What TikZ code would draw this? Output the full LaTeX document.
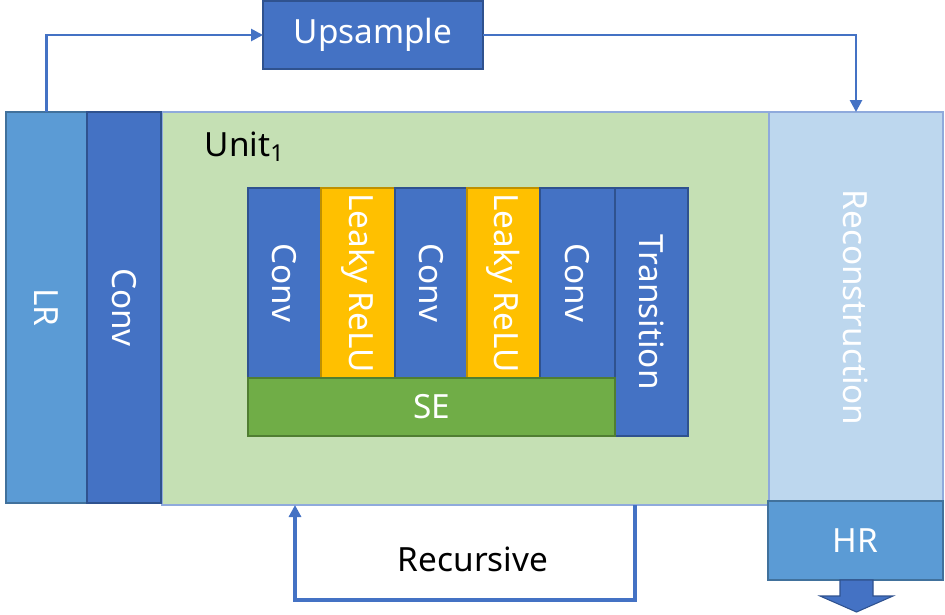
\documentclass[tikz,border=0pt]{standalone}
\usepackage{fontspec}
\setmainfont{Noto Sans}
\usetikzlibrary{arrows.meta,positioning}
\newlength\px
\setlength\px{0.75pt}
\definecolor{convblue}{HTML}{4472C4}
\definecolor{convedge}{HTML}{2F528F}
\definecolor{lrblue}{HTML}{5B9BD5}
\definecolor{lredge}{HTML}{41719C}
\definecolor{unitgreen}{HTML}{C5E0B4}
\definecolor{paleedge}{HTML}{8FAADC}
\definecolor{recblue}{HTML}{BDD7EE}
\definecolor{reluyellow}{HTML}{FFC000}
\definecolor{reluedge}{HTML}{BF9000}
\definecolor{segreen}{HTML}{70AD47}
\definecolor{seedge}{HTML}{507E32}
\tikzset{
  block/.style = {rectangle, line width = 1.5pt, outer sep = 0pt, inner sep = 0pt,
                  text = white, font = \fontsize{25}{29}\selectfont},
  convbox/.style = {block, fill = convblue, draw = convedge},
  lrbox/.style = {block, fill = lrblue, draw = lredge},
  relubox/.style = {block, fill = reluyellow, draw = reluedge},
  flow/.style = {convblue, line width = 2pt, -{Triangle[width=9pt,length=9pt]}},
}
\begin{document}
\begin{tikzpicture}[x = 1\px, y = -1\px]
  \useasboundingbox (0,0) rectangle (945,614);
  % outer stages
  \node [convbox, minimum width = 220\px, minimum height = 68\px]
    (up) at (373,35) {Upsample};
  \node [block, fill = unitgreen, draw = paleedge, line width = 2.2pt,
         minimum width = 607\px, minimum height = 393\px]
    (unit) at (465.5,308.5) {};
  \node [lrbox, minimum width = 81\px, minimum height = 391\px]
    (lr) at (46.5,307.5) {\rotatebox{-90}{LR}};
  \node [convbox, minimum width = 74\px, minimum height = 391\px]
    (conv) at (124,307.5) {\rotatebox{-90}{Conv}};
  \node [block, fill = recblue, draw = paleedge, line width = 2.2pt,
         minimum width = 174\px, minimum height = 391\px]
    (rec) at (856,307.5) {\rotatebox{-90}{Reconstruction}};
  \node [lrbox, minimum width = 175\px, minimum height = 79\px]
    (hr) at (855.5,540.5) {HR};
  \node [anchor = base west, font = \fontsize{25}{29}\selectfont]
    (unitlab) at (200,156) {Unit\textsubscript{1}};
  % unit body
  \node [convbox, minimum width = 73\px, minimum height = 190\px]
    (c1) at (284.5,283) {\rotatebox{-90}{Conv}};
  \node [relubox, minimum width = 74\px, minimum height = 190\px,
         right = 0pt of c1] (r1) {\rotatebox{-90}{Leaky ReLU}};
  \node [convbox, minimum width = 72\px, minimum height = 190\px,
         right = 0pt of r1] (c2) {\rotatebox{-90}{Conv}};
  \node [relubox, minimum width = 73\px, minimum height = 190\px,
         right = 0pt of c2] (r2) {\rotatebox{-90}{Leaky ReLU}};
  \node [convbox, minimum width = 75\px, minimum height = 190\px,
         right = 0pt of r2] (c3) {\rotatebox{-90}{Conv}};
  \node [convbox, minimum width = 73\px, minimum height = 248\px,
         anchor = north west] (tr) at (c3.north east) {\rotatebox{-90}{Transition}};
  \node [block, fill = segreen, draw = seedge, minimum width = 367\px,
         minimum height = 58\px, anchor = north west] (se) at (c1.south west) {SE};
  % connectors
  \draw [flow] (lr.north) |- (up.west);
  \draw [flow] (up.east) -| (rec.north);
  \coordinate (rs) at (635,505);
  \coordinate (re) at (295,505);
  \draw [flow, line width = 3pt] (rs) -- ++(0,95) -| (re);
  \node [font = \fontsize{25}{29}\selectfont] (rlab) at (473,559) {Recursive};
  \draw [fill = convblue, draw = convedge, line width = .8pt]
    (840,580) -- (840,596) -- (820,596) -- (856.5,612) -- (893,596)
    -- (873,596) -- (873,580) -- cycle;
\end{tikzpicture}
\end{document}
